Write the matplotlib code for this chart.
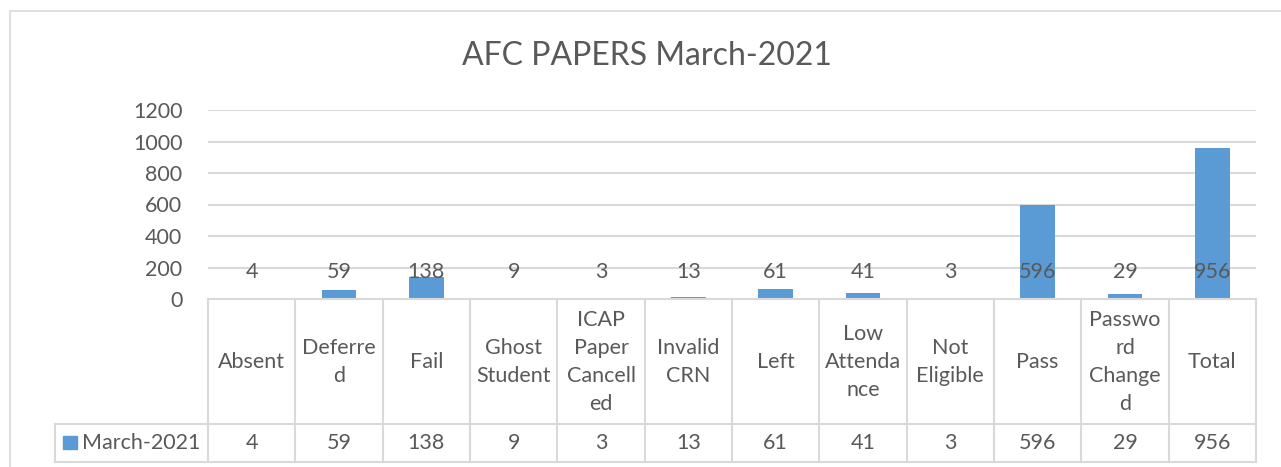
import matplotlib
matplotlib.use('Agg')
import matplotlib.pyplot as plt
from matplotlib.patches import Rectangle

categories = ['Absent', 'Deferred', 'Fail', 'Ghost Student', 'ICAP Paper Cancelled',
              'Invalid CRN', 'Left', 'Low Attendance', 'Not Eligible', 'Pass',
              'Password Changed', 'Total']
header_labels = ['Absent', 'Deferre\nd', 'Fail', 'Ghost\nStudent', 'ICAP\nPaper\nCancell\ned',
                 'Invalid\nCRN', 'Left', 'Low\nAttenda\nnce', 'Not\nEligible', 'Pass',
                 'Passwo\nrd\nChange\nd', 'Total']
values = [4, 59, 138, 9, 3, 13, 61, 41, 3, 596, 29, 956]
series_name = 'March-2021'
yticks = [0, 200, 400, 600, 800, 1000, 1200]

W, H = 1281, 467
BLUE = '#5B9BD5'
GRID = '#D9D9D9'
TXT = '#595959'
FS = 15.5
plt.rcParams['font.family'] = ['Lato', 'DejaVu Sans']

fig = plt.figure(figsize=(W / 100, H / 100), dpi=100)

def fx(px):
    return px / W

def fy(py):
    return 1 - py / H

# chart frame
fig.patches.append(Rectangle((fx(10), fy(480)), fx(1300) - fx(10), fy(11) - fy(480),
                             transform=fig.transFigure, fill=False,
                             edgecolor=GRID, linewidth=1.2))

left, right, top, zero = 208, 1256, 110, 299
ax = fig.add_axes([fx(left), fy(zero), fx(right) - fx(left), fy(top) - fy(zero)])
n = len(categories)
x = list(range(n))
ax.bar(x, values, width=0.4, color=BLUE, zorder=2)
ax.set_xlim(-0.5, n - 0.5)
ax.set_ylim(0, 1200)
ax.set_yticks(yticks)
ax.set_yticklabels([str(t) for t in yticks], fontsize=FS, color=TXT)
ax.tick_params(axis='y', length=0, pad=18.5)
ax.set_xticks([])
for t in yticks[1:]:
    ax.axhline(t, color=GRID, linewidth=1.5, zorder=1)
for s in ax.spines.values():
    s.set_visible(False)
for xi, v in zip(x, values):
    ax.text(xi, 172, str(v), ha='center', va='center', fontsize=FS, color=TXT, zorder=3)

fig.text(fx(647), fy(56), 'AFC PAPERS March-2021', ha='center', va='center',
         fontsize=23, color=TXT)

# data table below the axis
tleft, tbottom, hdr_bottom = 55, 462, 424
unit = (right - left) / n
tx0 = -0.5 - (left - tleft) / unit
tab = fig.add_axes([fx(tleft), fy(tbottom), fx(right) - fx(tleft), fy(zero) - fy(tbottom)])
tab.set_xlim(tx0, n - 0.5)
tab.set_ylim(tbottom, zero)
tab.axis('off')
lw = 1.5
tab.plot([-0.5, n - 0.5], [zero, zero], color=GRID, lw=lw, clip_on=False)
tab.plot([tx0, n - 0.5], [hdr_bottom, hdr_bottom], color=GRID, lw=lw, clip_on=False)
tab.plot([tx0, n - 0.5], [tbottom, tbottom], color=GRID, lw=lw, clip_on=False)
for b in range(n + 1):
    tab.plot([b - 0.5, b - 0.5], [zero, tbottom], color=GRID, lw=lw, clip_on=False)
tab.plot([tx0, tx0], [hdr_bottom, tbottom], color=GRID, lw=lw, clip_on=False)

hy = (zero + hdr_bottom) / 2
dy = (hdr_bottom + tbottom) / 2
for xi, lab, v in zip(x, header_labels, values):
    tab.text(xi, hy, lab, ha='center', va='center', fontsize=FS, color=TXT,
             linespacing=1.5)
    tab.text(xi, dy, str(v), ha='center', va='center', fontsize=FS, color=TXT)

sq = 14 / unit
tab.add_patch(Rectangle((tx0 + 8 / unit, 449), sq, -13, color=BLUE, clip_on=False))
tab.text(tx0 + 27 / unit, dy, series_name, ha='left', va='center', fontsize=FS, color=TXT)

fig.savefig('out.png', dpi=100)
